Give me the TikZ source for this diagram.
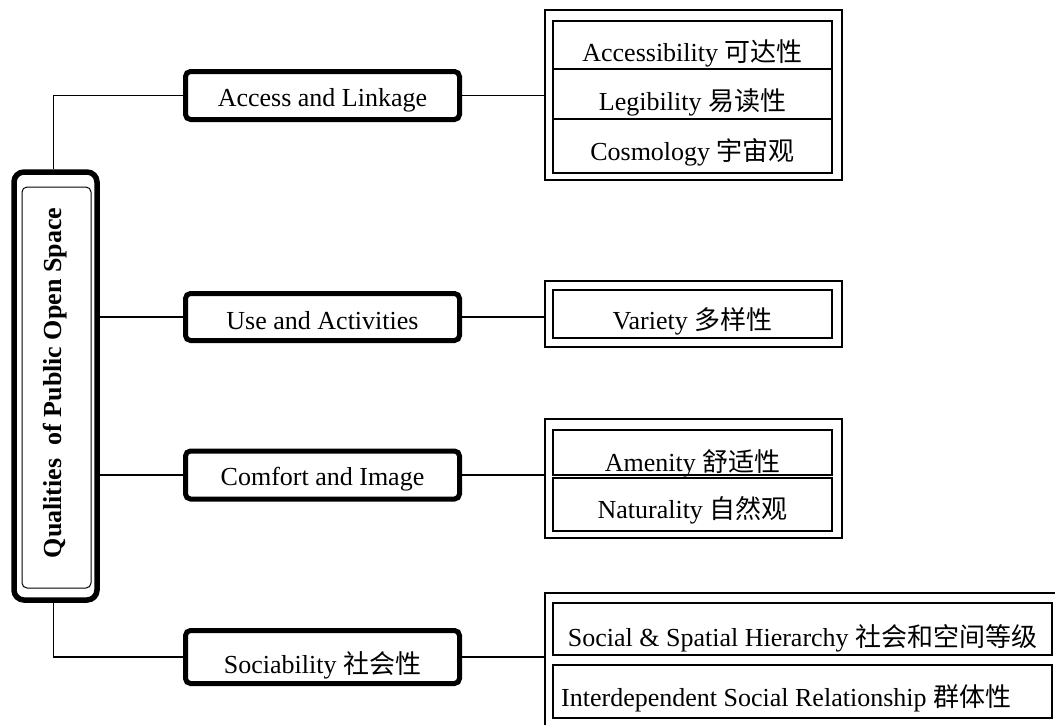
\documentclass[tikz,border=0pt]{standalone}
\usepackage{fontspec}
\setmainfont{Liberation Serif}
\newfontfamily\cjk{Noto Sans CJK SC}
\begin{document}
\begin{tikzpicture}[x=1pt,y=-1pt,
  txt/.style={font=\fontsize{26}{30}\selectfont, inner sep=0pt, anchor=base},
  hubbox/.style={draw, line width=5.5pt, rounded corners=10pt, minimum width=83pt, minimum height=428pt, inner sep=0pt},
  hubinner/.style={draw, line width=1pt, rounded corners=5pt, minimum width=69pt, minimum height=401pt, inner sep=0pt},
  aspect/.style={draw, line width=5pt, rounded corners=5pt, minimum width=274pt, minimum height=49pt, inner sep=0pt},
  group/.style={draw, line width=1.5pt, inner sep=0pt},
  item/.style={draw, line width=2pt, inner sep=0pt, minimum width=279pt},
  link/.style={line width=1.3pt}
]
\useasboundingbox (0,0) rectangle (1055,724);
\clip (0,0) rectangle (1055,724);

% central concept
\node[hubbox] (hub) at (55.5,386) {};
\node[hubinner] (hubin) at (56.5,387.5) {};
\node[txt, anchor=center, font=\fontsize{26}{30}\selectfont\bfseries, rotate=90] (hubtxt) at (55,383)
  {Qualities\hspace{0.5em}of Public Open Space};

% four qualities
\node[aspect, minimum height=48pt] (access) at (322.5,95.5) {};
\node[txt] (accesstxt) at (322.5,106) {Access and Linkage};
\node[aspect, minimum height=47pt] (use) at (322.5,317) {};
\node[txt] (usetxt) at (322.5,329) {Use and Activities};
\node[aspect, minimum height=48pt] (comfort) at (322.5,475) {};
\node[txt] (comforttxt) at (322.5,485) {Comfort and Image};
\node[aspect, minimum height=53pt] (social) at (322.5,657) {};
\node[txt] (socialtxt) at (322.5,673) {Sociability {\cjk 社会性}};

% attribute groups
\node[group, minimum width=297pt, minimum height=170pt] (g1) at (693.5,95) {};
\node[item, minimum height=48pt] (acc) at (692.5,45) {};
\node[txt] (acctxt) at (692.5,61) {Accessibility {\cjk 可达性}};
\node[item, minimum height=50pt] (leg) at (692.5,94) {};
\node[txt] (legtxt) at (692.5,110) {Legibility {\cjk 易读性}};
\node[item, minimum height=54pt] (cos) at (692.5,146) {};
\node[txt] (costxt) at (692.5,160) {Cosmology {\cjk 宇宙观}};

\node[group, minimum width=297pt, minimum height=66pt] (g2) at (693.5,314) {};
\node[item, minimum height=48pt] (var) at (692.5,314) {};
\node[txt] (vartxt) at (692.5,329) {Variety {\cjk 多样性}};

\node[group, minimum width=297pt, minimum height=119pt] (g3) at (693.5,478.5) {};
\node[item, minimum height=45pt] (amen) at (692.5,452.5) {};
\node[txt] (amentxt) at (692.5,471) {Amenity {\cjk 舒适性}};
\node[item, minimum height=53pt] (nat) at (692.5,504.5) {};
\node[txt] (nattxt) at (692.5,518) {Naturality {\cjk 自然观}};

\coordinate (g4) at (545,593);
\draw[group] (1060,593) -- (g4) -- (545,730);
\node[item, minimum width=499pt, minimum height=52pt] (hier) at (802.5,629) {};
\node[txt] (hiertxt) at (802.5,646) {Social \& Spatial Hierarchy {\cjk 社会和空间等级}};
\node[item, minimum width=499pt, minimum height=53pt] (inter) at (802.5,691.5) {};
\node[txt, anchor=base west] (intertxt) at (561,706) {Interdependent Social Relationship {\cjk 群体性}};

% connectors
\draw[link] ([xshift=-2pt]hub.north) |- (access.west);
\draw[link] ([xshift=-2pt]hub.south) |- (social.west);
\draw[link] (use.west -| hub.east) -- (use.west);
\draw[link] (comfort.west -| hub.east) -- (comfort.west);
\draw[link] (access.east) -- (access.east -| g1.west);
\draw[link] (use.east) -- (use.east -| g2.west);
\draw[link] (comfort.east) -- (comfort.east -| g3.west);
\draw[link] (social.east) -- (social.east -| g4);
\end{tikzpicture}
\end{document}
